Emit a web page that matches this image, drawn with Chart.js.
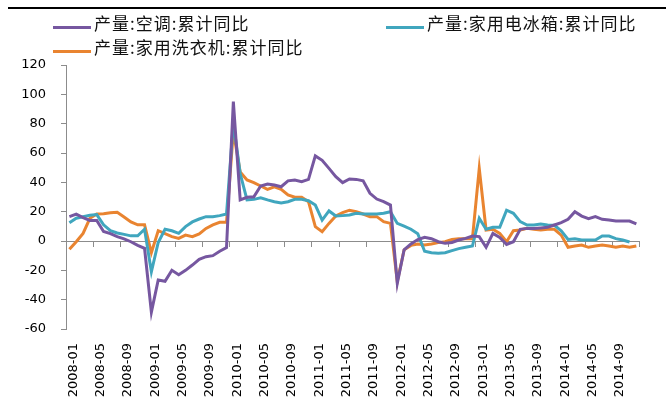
<!DOCTYPE html>
<html>
<head>
<meta charset="utf-8">
<script src="https://cdn.jsdelivr.net/npm/chart.js@4.4.1/dist/chart.umd.min.js"></script>
<style>
  html, body { margin: 0; padding: 0; background: #fff; }
  #wrap { position: relative; width: 666px; height: 406px; overflow: hidden; background: #fff; }
  #topline { position: absolute; left: 8px; right: 0; top: 7px; height: 2px; background: #000; }
  #chart { position: absolute; left: 0; top: 0; }
  .item { position: absolute; height: 20px; white-space: nowrap; }
  .item .swatch { position: absolute; left: 0; top: 12px; width: 38px; height: 3px; }
  .item .text { position: absolute; left: 41px; top: 0; font-family: "Noto Sans CJK SC", sans-serif;
                font-size: 17px; line-height: 17px; letter-spacing: 1px; color: #111; }
</style>
</head>
<body>
<div id="wrap">
  <div id="topline"></div>
  <canvas id="chart" width="666" height="406"></canvas>
  <div id="legend"></div>
</div>
<script>
// monthly categories, 2008-01 .. 2014-12
const months = [
  "2008-01","2008-02","2008-03","2008-04","2008-05","2008-06","2008-07","2008-08","2008-09","2008-10","2008-11","2008-12",
  "2009-01","2009-02","2009-03","2009-04","2009-05","2009-06","2009-07","2009-08","2009-09","2009-10","2009-11","2009-12",
  "2010-01","2010-02","2010-03","2010-04","2010-05","2010-06","2010-07","2010-08","2010-09","2010-10","2010-11","2010-12",
  "2011-01","2011-02","2011-03","2011-04","2011-05","2011-06","2011-07","2011-08","2011-09","2011-10","2011-11","2011-12",
  "2012-01","2012-02","2012-03","2012-04","2012-05","2012-06","2012-07","2012-08","2012-09","2012-10","2012-11","2012-12",
  "2013-01","2013-02","2013-03","2013-04","2013-05","2013-06","2013-07","2013-08","2013-09","2013-10","2013-11","2013-12",
  "2014-01","2014-02","2014-03","2014-04","2014-05","2014-06","2014-07","2014-08","2014-09","2014-10","2014-11","2014-12"
];

// 产量:空调:累计同比
const airCon = [
  16.6, 18.3, 16, 14, 14, 6.5, 5, 3, 1.5, -0.5, -3, -5,
  -48.5, -26.6, -27.5, -20, -23, -20, -16.4, -12.5, -10.7, -10, -7, -4.5,
  95, 28, 29.8, 30.2, 37.5, 38.9, 38.2, 37, 41, 41.6, 40.5, 42,
  58, 55, 49.5, 43.9, 39.8, 42.3, 42, 41, 32.5, 28.6, 26.8, 24.5,
  -28.9, -6, -2, 1, 2.5, 1.6, -0.5, -1.6, -1, 0.7, 1.8, 3.4,
  3, -4.3, 5.2, 2.5, -2.3, -0.5, 8, 8.6, 8.6, 8.9, 9.3, 10.9,
  12.5, 14.8, 20, 17, 15.2, 16.6, 14.8, 14.3, 13.6, 13.6, 13.6, 11.6
];

// 产量:家用电冰箱:累计同比
const fridge = [
  12.5, 15.5, 16.5, 17.5, 18, 11, 7, 5.5, 4.5, 3.5, 3.5, 8,
  -21, -1, 8, 7, 5.2, 9.8, 13, 15, 16.6, 16.6, 17.3, 18.4,
  81, 46, 28, 28.4, 29.5, 28, 26.8, 26, 26.8, 28.4, 28.4, 27.5,
  24.5, 14.3, 20.5, 17, 17.3, 17.7, 18.9, 18.4, 18.4, 18.4, 18.9, 20,
  12, 10.2, 8, 5, -7, -8, -8.4, -8, -6.6, -5.2, -4.3, -3.4,
  15.5, 8, 9.3, 9.3, 21, 18.9, 13.2, 10.9, 10.9, 11.6, 10.9, 10.7,
  7, 1.1, 1.6, 0.7, 0.7, 0.7, 3.4, 3.4, 1.6, 0.7, -0.7, null
];

// 产量:家用洗衣机:累计同比
const washer = [
  -5.7, -0.5, 5.2, 15.5, 18.4, 18.6, 19.3, 19.6, 16.4, 13, 11, 11,
  -8, 7, 5, 3, 1.8, 4, 3, 4.8, 8.6, 11, 12.7, 12.7,
  75, 47, 41.6, 39.8, 37.5, 35.2, 37, 35.2, 31.4, 29.8, 29.8, 26.8,
  9.8, 6.4, 12, 17, 19.3, 21, 20, 18.4, 16.6, 16.6, 13.2, 12,
  -27.7, -6, -3, -2, -2.7, -2, -1.1, -0.5, 1.1, 1.6, 1.6, 1.6,
  49.5, 7.5, 8, 5.2, -0.5, 7, 7.5, 8.6, 8, 7.5, 8, 8,
  4, -4.3, -3.4, -2.7, -4.3, -3.4, -2.7, -3.4, -4.3, -3.4, -4.3, -3.4
];

const seriesNames = ["产量:空调:累计同比", "产量:家用电冰箱:累计同比", "产量:家用洗衣机:累计同比"];
const seriesColors = ["#7657A0", "#40A6BE", "#E98430"];
const legendSpots = [[53, 14], [386, 14], [53, 38]];

const axisGrey = "#8C8C8C";
const tickFont = { family: "'DejaVu Sans', sans-serif", size: 13 };

const ctx = document.getElementById("chart").getContext("2d");

const chart = new Chart(ctx, {
  type: "line",
  data: {
    labels: months,
    datasets: [airCon, fridge, washer].map((values, i) => ({
      label: seriesNames[i],
      data: values,
      borderColor: seriesColors[i],
      backgroundColor: seriesColors[i],
      borderWidth: 3,
      pointRadius: 0,
      tension: 0,
      xAxisID: "x",
      yAxisID: "y",
    })),
  },
  options: {
    responsive: false,
    animation: false,
    layout: { padding: { top: 65, left: 21, right: 7, bottom: 5 } },
    plugins: {
      legend: { display: false },
      tooltip: { enabled: false },
    },
    scales: {
      x: {
        type: "category",
        offset: true,
        grid: { display: false, drawTicks: false },
        border: { display: false },
        afterFit: (scale) => { scale.height = 72; },
        ticks: {
          autoSkip: false,
          minRotation: 90,
          maxRotation: 90,
          padding: 14,
          labelOffset: 4,
          color: "#000",
          font: tickFont,
          callback: function (value, index) {
            return index % 4 === 0 ? this.getLabelForValue(value) : "";
          },
        },
      },
      // axis line crossing at zero, with a tick mark every 4 months
      xZero: {
        type: "category",
        labels: months,
        offset: true,
        position: { y: 0 },
        grid: {
          offset: true,
          drawOnChartArea: false,
          tickLength: 5,
          color: (c) => (c.index === undefined || c.index % 4 === 0 ? axisGrey : "rgba(0,0,0,0)"),
        },
        border: { color: axisGrey, width: 1 },
        ticks: { display: false },
      },
      y: {
        min: -60,
        max: 120,
        afterFit: (scale) => { scale.width = 45; },
        ticks: { stepSize: 20, padding: 15, color: "#000", font: tickFont },
        grid: { drawOnChartArea: false, tickLength: 5, color: axisGrey },
        border: { color: axisGrey, width: 1 },
      },
    },
  },
});

// html legend laid out like the original (two on the first row, one below)
const legendBox = document.getElementById("legend");
chart.data.datasets.forEach((ds, i) => {
  const item = document.createElement("div");
  item.className = "item";
  item.style.left = legendSpots[i][0] + "px";
  item.style.top = legendSpots[i][1] + "px";
  const swatch = document.createElement("span");
  swatch.className = "swatch";
  swatch.style.background = ds.borderColor;
  const text = document.createElement("span");
  text.className = "text";
  text.textContent = ds.label;
  item.appendChild(swatch);
  item.appendChild(text);
  legendBox.appendChild(item);
});
</script>
</body>
</html>
